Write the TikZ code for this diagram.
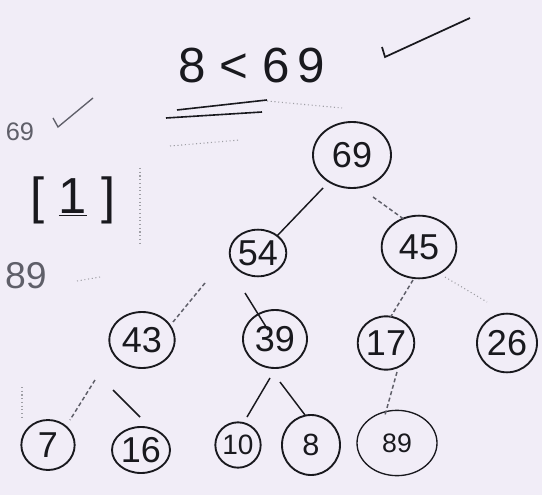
\documentclass[tikz,border=0pt]{standalone}
\usepackage{fontspec}
\setmainfont{Liberation Sans}
\usetikzlibrary{shapes.geometric,calc}
\definecolor{paper}{RGB}{241,237,247}
\definecolor{ink}{RGB}{25,25,30}
\definecolor{lead}{RGB}{95,95,105}
\tikzset{every picture/.style={line width=0.75pt}}
\tikzset{
  heapkey/.style={ellipse,draw=ink,line width=1.4pt,inner sep=0pt,text=ink,font=\fontsize{27}{30}\selectfont},
  sz/.style 2 args={minimum width=#1pt,minimum height=#2pt},
  branch/.style={draw=ink,line width=1.1pt},
  sketchy/.style={draw=lead,line width=1.1pt,densely dashed},
  ghost/.style={draw=lead!60,line width=0.8pt,dotted},
  scrawl/.style={text=ink,inner sep=0pt},
}

\begin{document}
\begin{tikzpicture}[x=0.75pt,y=0.75pt,yscale=-1,xscale=1]
    \fill[paper] (0,0) rectangle (542,495);
    \useasboundingbox (0,0) rectangle (542,495);
    %Heap nodes
    \node[heapkey, sz={58.5}{49.5}] (n69) at (352,155) {69};
    \node[heapkey, sz={41}{35}] (n54) at (258,253) {54};
    \node[heapkey, sz={56}{47}] (n45) at (419,247) {45};
    \node[heapkey, sz={49}{42}] (n43) at (142,340) {43};
    \node[heapkey, sz={48}{43.5}] (n39) at (275,339) {39};
    \node[heapkey, sz={42}{40}] (n17) at (386,343) {17};
    \node[heapkey, sz={45}{44}] (n26) at (507,343) {26};
    \node[heapkey, sz={40}{37.5}] (n7) at (48,445) {7};
    \node[heapkey, sz={43.5}{34.5}] (n16) at (141,450) {16};
    \node[heapkey, sz={34}{34}, font=\fontsize{21}{24}\selectfont] (n10) at (238,445) {10};
    \node[heapkey, sz={43.5}{45}, font=\fontsize{23}{26}\selectfont] (n8) at (311,445) {8};
    \node[heapkey, sz={60}{49}, line width=1pt, font=\fontsize{20}{24}\selectfont] (n89) at (397,443) {89};
    %Straight Lines
    \draw[branch] ($(n69)+(-29,33)$) -- ($(n54)+(19,-17)$);
    \draw[sketchy] ($(n69)+(21,42)$) -- ($(n45)+(-14,-27)$);
    \draw[sketchy] ($(n45)+(-6,33)$) -- ($(n17)+(4,-25)$);
    \draw[ghost] ($(n45)+(26,30)$) -- ($(n26)+(-20,-41)$);
    \draw[sketchy] ($(n54)+(-53,30)$) -- ($(n43)+(31,-18)$);
    \draw[branch] ($(n54)+(-13,40)$) -- ($(n39)+(-7,-9)$);
    \draw[sketchy] ($(n43)+(-47,40)$) -- ($(n7)+(22,-25)$);
    \draw[branch] ($(n43)+(-29,50)$) -- ($(n16)+(-1,-33)$);
    \draw[branch] ($(n39)+(-5,39)$) -- ($(n10)+(9,-28)$);
    \draw[branch] ($(n39)+(5,43)$) -- ($(n8)+(-6,-30)$);
    \draw[sketchy] ($(n17)+(11,29)$) -- ($(n89)+(-12,-28)$);
    %Comparison at the top
    \node[scrawl, font=\fontsize{37}{40}\selectfont] (cmp) at (252,66) {8 \textless{} 6\,9};
    \draw[ink, line width=1.3pt] (382,47) -- (385,57) -- (470,18);
    \draw[ink, line width=1.2pt] (177,110) -- (267,100);
    \draw[ink, line width=1.2pt] (166,118) -- (262,112);
    \draw[ghost] (267,101) -- (342,108);
    \draw[ghost] (170,146) -- (240,140);
    %Left margin notes
    \node[scrawl, text=lead, font=\fontsize{19}{22}\selectfont] (old) at (20,132) {69};
    \draw[lead, line width=1pt] (53,118) -- (58,127) -- (93,98);
    \node[scrawl, font=\fontsize{38}{42}\selectfont] (idx) at (73,200) {[ \underline{1} ]};
    \node[scrawl, text=lead, font=\fontsize{28}{32}\selectfont] (val) at (26,276) {89};
    \draw[ghost] (140,168) -- (140,245);
    \draw[ghost] (22,387) -- (22,417);
    \draw[ghost] (77,281) -- (100,277);
\end{tikzpicture}
\end{document}
